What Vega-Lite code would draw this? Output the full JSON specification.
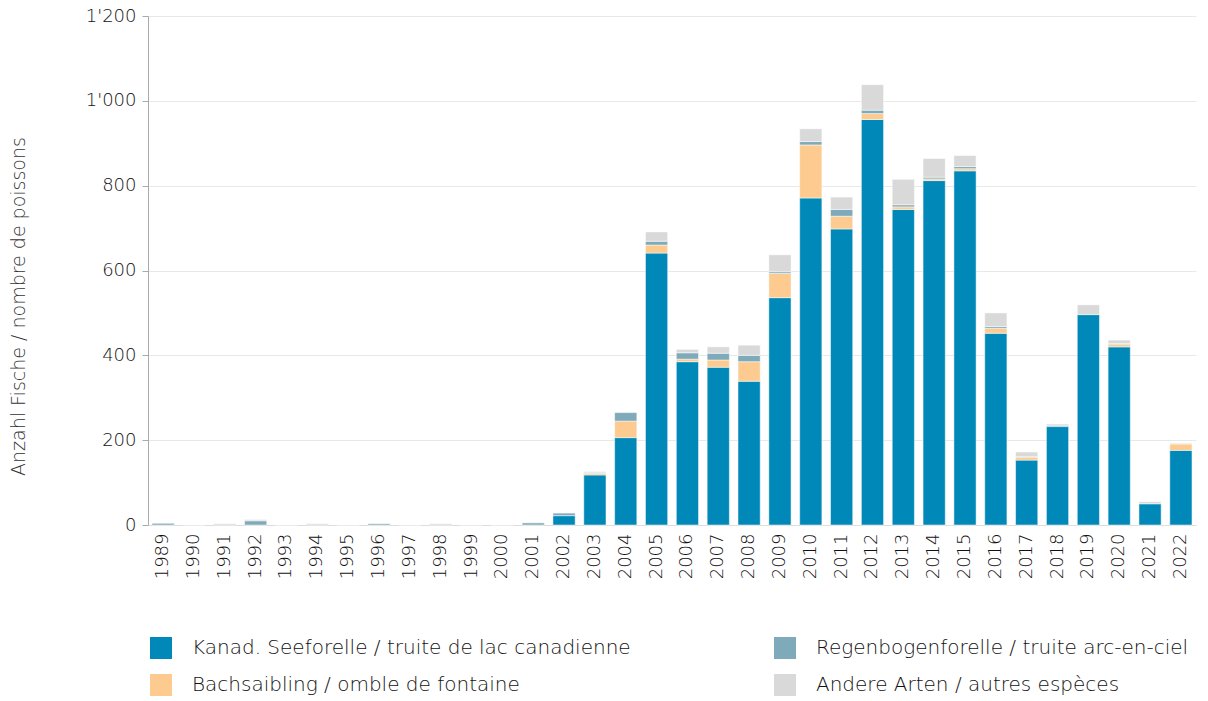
{
  "$schema": "https://vega.github.io/schema/vega-lite/v6.json",
  "width": 1048,
  "height": 509,
  "autosize": {"type": "none"},
  "padding": {"left": 148, "top": 16, "right": 12, "bottom": 176},
  "background": "white",
  "config": {"font": "DejaVu Sans", "view": {"stroke": null}},
  "data": {"values": [
    {"Jahr": "1989", "Art": "Regenbogenforelle / truite arc-en-ciel", "Anzahl": 4},
    {"Jahr": "1990", "Art": "Kanad. Seeforelle / truite de lac canadienne", "Anzahl": 0},
    {"Jahr": "1991", "Art": "Andere Arten / autres espèces", "Anzahl": 3},
    {"Jahr": "1992", "Art": "Regenbogenforelle / truite arc-en-ciel", "Anzahl": 10},
    {"Jahr": "1992", "Art": "Andere Arten / autres espèces", "Anzahl": 3},
    {"Jahr": "1993", "Art": "Kanad. Seeforelle / truite de lac canadienne", "Anzahl": 0},
    {"Jahr": "1994", "Art": "Andere Arten / autres espèces", "Anzahl": 3},
    {"Jahr": "1995", "Art": "Kanad. Seeforelle / truite de lac canadienne", "Anzahl": 0},
    {"Jahr": "1996", "Art": "Regenbogenforelle / truite arc-en-ciel", "Anzahl": 3},
    {"Jahr": "1997", "Art": "Kanad. Seeforelle / truite de lac canadienne", "Anzahl": 0},
    {"Jahr": "1998", "Art": "Andere Arten / autres espèces", "Anzahl": 3},
    {"Jahr": "1999", "Art": "Kanad. Seeforelle / truite de lac canadienne", "Anzahl": 0},
    {"Jahr": "2000", "Art": "Kanad. Seeforelle / truite de lac canadienne", "Anzahl": 0},
    {"Jahr": "2001", "Art": "Regenbogenforelle / truite arc-en-ciel", "Anzahl": 5},
    {"Jahr": "2002", "Art": "Kanad. Seeforelle / truite de lac canadienne", "Anzahl": 22},
    {"Jahr": "2002", "Art": "Regenbogenforelle / truite arc-en-ciel", "Anzahl": 6},
    {"Jahr": "2003", "Art": "Kanad. Seeforelle / truite de lac canadienne", "Anzahl": 118},
    {"Jahr": "2003", "Art": "Bachsaibling / omble de fontaine", "Anzahl": 4},
    {"Jahr": "2003", "Art": "Regenbogenforelle / truite arc-en-ciel", "Anzahl": 1},
    {"Jahr": "2003", "Art": "Andere Arten / autres espèces", "Anzahl": 3},
    {"Jahr": "2004", "Art": "Kanad. Seeforelle / truite de lac canadienne", "Anzahl": 206},
    {"Jahr": "2004", "Art": "Bachsaibling / omble de fontaine", "Anzahl": 39},
    {"Jahr": "2004", "Art": "Regenbogenforelle / truite arc-en-ciel", "Anzahl": 20},
    {"Jahr": "2005", "Art": "Kanad. Seeforelle / truite de lac canadienne", "Anzahl": 641},
    {"Jahr": "2005", "Art": "Bachsaibling / omble de fontaine", "Anzahl": 19},
    {"Jahr": "2005", "Art": "Regenbogenforelle / truite arc-en-ciel", "Anzahl": 9},
    {"Jahr": "2005", "Art": "Andere Arten / autres espèces", "Anzahl": 22},
    {"Jahr": "2006", "Art": "Kanad. Seeforelle / truite de lac canadienne", "Anzahl": 385},
    {"Jahr": "2006", "Art": "Bachsaibling / omble de fontaine", "Anzahl": 6},
    {"Jahr": "2006", "Art": "Regenbogenforelle / truite arc-en-ciel", "Anzahl": 15},
    {"Jahr": "2006", "Art": "Andere Arten / autres espèces", "Anzahl": 8},
    {"Jahr": "2007", "Art": "Kanad. Seeforelle / truite de lac canadienne", "Anzahl": 372},
    {"Jahr": "2007", "Art": "Bachsaibling / omble de fontaine", "Anzahl": 17},
    {"Jahr": "2007", "Art": "Regenbogenforelle / truite arc-en-ciel", "Anzahl": 16},
    {"Jahr": "2007", "Art": "Andere Arten / autres espèces", "Anzahl": 15},
    {"Jahr": "2008", "Art": "Kanad. Seeforelle / truite de lac canadienne", "Anzahl": 339},
    {"Jahr": "2008", "Art": "Bachsaibling / omble de fontaine", "Anzahl": 46},
    {"Jahr": "2008", "Art": "Regenbogenforelle / truite arc-en-ciel", "Anzahl": 15},
    {"Jahr": "2008", "Art": "Andere Arten / autres espèces", "Anzahl": 24},
    {"Jahr": "2009", "Art": "Kanad. Seeforelle / truite de lac canadienne", "Anzahl": 536},
    {"Jahr": "2009", "Art": "Bachsaibling / omble de fontaine", "Anzahl": 57},
    {"Jahr": "2009", "Art": "Regenbogenforelle / truite arc-en-ciel", "Anzahl": 4},
    {"Jahr": "2009", "Art": "Andere Arten / autres espèces", "Anzahl": 40},
    {"Jahr": "2010", "Art": "Kanad. Seeforelle / truite de lac canadienne", "Anzahl": 771},
    {"Jahr": "2010", "Art": "Bachsaibling / omble de fontaine", "Anzahl": 125},
    {"Jahr": "2010", "Art": "Regenbogenforelle / truite arc-en-ciel", "Anzahl": 8},
    {"Jahr": "2010", "Art": "Andere Arten / autres espèces", "Anzahl": 30},
    {"Jahr": "2011", "Art": "Kanad. Seeforelle / truite de lac canadienne", "Anzahl": 698},
    {"Jahr": "2011", "Art": "Bachsaibling / omble de fontaine", "Anzahl": 30},
    {"Jahr": "2011", "Art": "Regenbogenforelle / truite arc-en-ciel", "Anzahl": 16},
    {"Jahr": "2011", "Art": "Andere Arten / autres espèces", "Anzahl": 29},
    {"Jahr": "2012", "Art": "Kanad. Seeforelle / truite de lac canadienne", "Anzahl": 956},
    {"Jahr": "2012", "Art": "Bachsaibling / omble de fontaine", "Anzahl": 14},
    {"Jahr": "2012", "Art": "Regenbogenforelle / truite arc-en-ciel", "Anzahl": 8},
    {"Jahr": "2012", "Art": "Andere Arten / autres espèces", "Anzahl": 60},
    {"Jahr": "2013", "Art": "Kanad. Seeforelle / truite de lac canadienne", "Anzahl": 744},
    {"Jahr": "2013", "Art": "Bachsaibling / omble de fontaine", "Anzahl": 6},
    {"Jahr": "2013", "Art": "Regenbogenforelle / truite arc-en-ciel", "Anzahl": 5},
    {"Jahr": "2013", "Art": "Andere Arten / autres espèces", "Anzahl": 60},
    {"Jahr": "2014", "Art": "Kanad. Seeforelle / truite de lac canadienne", "Anzahl": 812},
    {"Jahr": "2014", "Art": "Bachsaibling / omble de fontaine", "Anzahl": 4},
    {"Jahr": "2014", "Art": "Regenbogenforelle / truite arc-en-ciel", "Anzahl": 4},
    {"Jahr": "2014", "Art": "Andere Arten / autres espèces", "Anzahl": 44},
    {"Jahr": "2015", "Art": "Kanad. Seeforelle / truite de lac canadienne", "Anzahl": 835},
    {"Jahr": "2015", "Art": "Bachsaibling / omble de fontaine", "Anzahl": 5},
    {"Jahr": "2015", "Art": "Regenbogenforelle / truite arc-en-ciel", "Anzahl": 5},
    {"Jahr": "2015", "Art": "Andere Arten / autres espèces", "Anzahl": 26},
    {"Jahr": "2016", "Art": "Kanad. Seeforelle / truite de lac canadienne", "Anzahl": 452},
    {"Jahr": "2016", "Art": "Bachsaibling / omble de fontaine", "Anzahl": 12},
    {"Jahr": "2016", "Art": "Regenbogenforelle / truite arc-en-ciel", "Anzahl": 4},
    {"Jahr": "2016", "Art": "Andere Arten / autres espèces", "Anzahl": 32},
    {"Jahr": "2017", "Art": "Kanad. Seeforelle / truite de lac canadienne", "Anzahl": 153},
    {"Jahr": "2017", "Art": "Bachsaibling / omble de fontaine", "Anzahl": 7},
    {"Jahr": "2017", "Art": "Regenbogenforelle / truite arc-en-ciel", "Anzahl": 1},
    {"Jahr": "2017", "Art": "Andere Arten / autres espèces", "Anzahl": 11},
    {"Jahr": "2018", "Art": "Kanad. Seeforelle / truite de lac canadienne", "Anzahl": 232},
    {"Jahr": "2018", "Art": "Regenbogenforelle / truite arc-en-ciel", "Anzahl": 3},
    {"Jahr": "2018", "Art": "Andere Arten / autres espèces", "Anzahl": 3},
    {"Jahr": "2019", "Art": "Kanad. Seeforelle / truite de lac canadienne", "Anzahl": 496},
    {"Jahr": "2019", "Art": "Andere Arten / autres espèces", "Anzahl": 23},
    {"Jahr": "2020", "Art": "Kanad. Seeforelle / truite de lac canadienne", "Anzahl": 420},
    {"Jahr": "2020", "Art": "Bachsaibling / omble de fontaine", "Anzahl": 6},
    {"Jahr": "2020", "Art": "Regenbogenforelle / truite arc-en-ciel", "Anzahl": 2},
    {"Jahr": "2020", "Art": "Andere Arten / autres espèces", "Anzahl": 8},
    {"Jahr": "2021", "Art": "Kanad. Seeforelle / truite de lac canadienne", "Anzahl": 50},
    {"Jahr": "2021", "Art": "Andere Arten / autres espèces", "Anzahl": 5},
    {"Jahr": "2022", "Art": "Kanad. Seeforelle / truite de lac canadienne", "Anzahl": 176},
    {"Jahr": "2022", "Art": "Bachsaibling / omble de fontaine", "Anzahl": 15},
    {"Jahr": "2022", "Art": "Andere Arten / autres espèces", "Anzahl": 2}
  ]},
  "transform": [
    {"calculate": "indexof(['Kanad. Seeforelle / truite de lac canadienne', 'Bachsaibling / omble de fontaine', 'Regenbogenforelle / truite arc-en-ciel', 'Andere Arten / autres espèces'], datum.Art)", "as": "Stapel"}
  ],
  "mark": {"type": "bar", "stroke": "white", "strokeWidth": 0.5},
  "encoding": {
    "x": {
      "field": "Jahr", "type": "ordinal",
      "scale": {"paddingInner": 0.28, "paddingOuter": 0.13},
      "axis": {
        "title": null, "labelAngle": -90, "labelFontSize": 18, "labelColor": "#111",
        "labelFontWeight": 300, "labelPadding": 8, "ticks": false,
        "domainColor": "#dddddd", "domainWidth": 1
      }
    },
    "y": {
      "field": "Anzahl", "type": "quantitative", "stack": "zero",
      "scale": {"domain": [0, 1200], "nice": false},
      "axis": {
        "title": "Anzahl Fische / nombre de poissons",
        "titleFontSize": 19, "titleFontWeight": 300, "titleColor": "#333",
        "titleAngle": -90, "titleX": -130, "titleY": 290, "titleAlign": "center", "titleBaseline": "middle",
        "values": [0, 200, 400, 600, 800, 1000, 1200],
        "labelExpr": "replace(format(datum.value, ','), ',', \"'\")",
        "labelFontSize": 18, "labelFontWeight": 300, "labelColor": "#111", "labelPadding": 6,
        "tickSize": 6, "tickColor": "#aaaaaa", "domainColor": "#aaaaaa",
        "gridColor": "#e8e8e8", "gridWidth": 1
      }
    },
    "color": {
      "field": "Art", "type": "nominal",
      "scale": {
        "domain": ["Kanad. Seeforelle / truite de lac canadienne", "Bachsaibling / omble de fontaine", "Regenbogenforelle / truite arc-en-ciel", "Andere Arten / autres espèces"],
        "range": ["#0089b8", "#fdcb8f", "#7eaab9", "#d9d9d9"]
      },
      "legend": {
        "title": null, "orient": "none", "legendX": 2, "legendY": 621,
        "columns": 2, "columnPadding": 143, "rowPadding": 15,
        "symbolType": "square", "symbolSize": 484, "symbolStrokeWidth": 0, "symbolOpacity": 1,
        "labelFontSize": 20, "labelFontWeight": 300, "labelColor": "#111", "labelOffset": 20, "labelLimit": 600
      }
    },
    "order": {"field": "Stapel", "type": "quantitative", "sort": "ascending"}
  }
}
